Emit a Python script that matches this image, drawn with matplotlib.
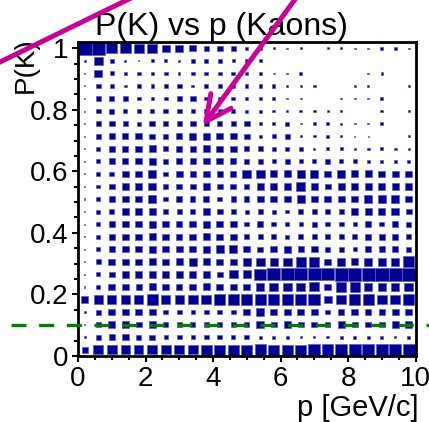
import matplotlib
matplotlib.use('Agg')
import matplotlib.pyplot as plt
import numpy as np
from matplotlib.lines import Line2D
from matplotlib.ticker import MultipleLocator, FuncFormatter

plt.rcParams['font.family'] = ['Liberation Sans', 'DejaVu Sans']

# binning: 25 bins in p [GeV/c], 25 bins in P(K)
p_edges = np.linspace(0., 10., 26)
pk_edges = np.linspace(0., 1.02, 26)

# relative bin content (1 = fullest box), one list per P(K) bin, top row first
occ_rows = [
    [1.0, 1.0, 0.78, 0.8, 0.75, 0.72, 0.6, 0.6, 0.5, 0.4, 0.42, 0.38, 0.22, 0.2, 0.15, 0.12, 0.18, 0, 0.15, 0.15, 0.12, 0.12, 0.2, 0.2, 0.12],
    [0.12, 0.64, 0.32, 0.12, 0.1, 0.25, 0.25, 0.15, 0.28, 0.3, 0.3, 0.25, 0.25, 0.25, 0, 0, 0, 0, 0, 0, 0, 0, 0, 0, 0],
    [0.1, 0.57, 0.32, 0.25, 0.3, 0.25, 0.3, 0.18, 0.28, 0.3, 0.3, 0.3, 0.25, 0.25, 0.12, 0.12, 0.2, 0, 0, 0, 0, 0.12, 0.18, 0, 0],
    [0.08, 0.37, 0.3, 0.2, 0.3, 0.25, 0.3, 0.37, 0.2, 0.3, 0.3, 0.3, 0.25, 0.25, 0.25, 0.12, 0.12, 0.2, 0, 0, 0.12, 0.12, 0, 0, 0.12],
    [0.1, 0.37, 0.4, 0.35, 0.3, 0.25, 0.3, 0.37, 0.42, 0.3, 0.3, 0.3, 0.25, 0.25, 0.25, 0.15, 0.12, 0, 0, 0.15, 0.12, 0.12, 0.22, 0, 0],
    [0.08, 0.37, 0.4, 0.32, 0.3, 0.3, 0.37, 0.37, 0.28, 0.32, 0.32, 0.32, 0.25, 0.25, 0.2, 0.15, 0.2, 0.2, 0.18, 0.12, 0, 0, 0.2, 0, 0.12],
    [0.08, 0.37, 0.45, 0.4, 0.3, 0.42, 0.37, 0.37, 0.42, 0.4, 0.37, 0.4, 0.42, 0.25, 0.25, 0.3, 0.12, 0.2, 0.22, 0.15, 0.12, 0.12, 0.22, 0, 0],
    [0.08, 0.37, 0.45, 0.45, 0.5, 0.42, 0.37, 0.45, 0.55, 0.55, 0.5, 0.5, 0.42, 0.25, 0.3, 0.37, 0.12, 0.2, 0.22, 0.15, 0.1, 0.1, 0, 0, 0.12],
    [0.08, 0.3, 0.45, 0.45, 0.5, 0.55, 0.37, 0.45, 0.45, 0.55, 0.5, 0.5, 0.37, 0.37, 0.32, 0.32, 0.32, 0.15, 0.22, 0.25, 0.15, 0.2, 0.25, 0.2, 0.15],
    [0.08, 0.3, 0.45, 0.45, 0.5, 0.55, 0.37, 0.45, 0.45, 0.5, 0.5, 0.45, 0.37, 0.37, 0.32, 0.35, 0.32, 0.32, 0.35, 0.3, 0.3, 0.25, 0.25, 0.25, 0.25],
    [0.08, 0.3, 0.37, 0.5, 0.5, 0.6, 0.37, 0.5, 0.45, 0.5, 0.42, 0.45, 0.65, 0.65, 0.55, 0.55, 0.6, 0.6, 0.5, 0.6, 0.55, 0.55, 0.5, 0.5, 0.5],
    [0.08, 0.3, 0.45, 0.5, 0.5, 0.6, 0.37, 0.45, 0.45, 0.5, 0.42, 0.45, 0.4, 0.5, 0.55, 0.5, 0.65, 0.55, 0.45, 0.55, 0.55, 0.5, 0.5, 0.5, 0.55],
    [0.08, 0.3, 0.45, 0.5, 0.5, 0.6, 0.35, 0.42, 0.4, 0.45, 0.38, 0.4, 0.4, 0.5, 0.5, 0.5, 0.58, 0.55, 0.5, 0.55, 0.55, 0.6, 0.62, 0.6, 0.55],
    [0.08, 0.32, 0.4, 0.5, 0.5, 0.55, 0.37, 0.37, 0.37, 0.55, 0.42, 0.37, 0.32, 0.37, 0.32, 0.3, 0.4, 0.4, 0.4, 0.37, 0.5, 0.55, 0.55, 0.6, 0.45],
    [0.08, 0.32, 0.45, 0.5, 0.5, 0.55, 0.5, 0.45, 0.5, 0.55, 0.5, 0.5, 0.37, 0.42, 0.37, 0.3, 0.32, 0.4, 0.37, 0.37, 0.32, 0.45, 0.37, 0.45, 0.4],
    [0.08, 0.32, 0.45, 0.5, 0.5, 0.55, 0.5, 0.45, 0.5, 0.55, 0.5, 0.5, 0.37, 0.37, 0.37, 0.3, 0.4, 0.4, 0.37, 0.37, 0.37, 0.45, 0.45, 0.45, 0.4],
    [0.08, 0.32, 0.45, 0.5, 0.5, 0.55, 0.5, 0.5, 0.5, 0.55, 0.6, 0.6, 0.5, 0.42, 0.5, 0.55, 0.45, 0.5, 0.37, 0.37, 0.32, 0.45, 0.45, 0.45, 0.4],
    [0.1, 0.4, 0.5, 0.5, 0.5, 0.55, 0.5, 0.55, 0.6, 0.55, 0.5, 0.5, 0.62, 0.65, 0.62, 0.65, 0.75, 0.75, 0.5, 0.6, 0.55, 0.6, 0.6, 0.6, 0.85],
    [0.08, 0.32, 0.45, 0.5, 0.5, 0.55, 0.5, 0.55, 0.5, 0.55, 0.45, 0.65, 0.62, 0.88, 0.95, 0.95, 0.95, 0.95, 0.95, 1.0, 1.0, 1.0, 1.0, 1.0, 1.0],
    [0.1, 0.32, 0.5, 0.5, 0.45, 0.55, 0.5, 0.45, 0.5, 0.55, 0.5, 0.5, 0.5, 0.62, 0.7, 0.65, 0.65, 0.72, 0.5, 0.75, 0.75, 0.6, 0.6, 0.6, 0.65],
    [0.55, 0.7, 0.7, 0.7, 0.7, 0.8, 0.65, 0.65, 0.75, 0.75, 0.8, 0.8, 0.8, 0.85, 0.8, 0.8, 0.8, 0.88, 0.62, 0.75, 0.8, 0.8, 0.75, 0.75, 0.8],
    [0.12, 0.4, 0.55, 0.5, 0.5, 0.55, 0.37, 0.37, 0.32, 0.37, 0.37, 0.37, 0.5, 0.62, 0.5, 0.5, 0.55, 0.5, 0.37, 0.45, 0.5, 0.45, 0.45, 0.5, 0.55],
    [0.1, 0.4, 0.55, 0.5, 0.45, 0.55, 0.37, 0.37, 0.37, 0.37, 0.37, 0.37, 0.4, 0.62, 0.45, 0.5, 0.45, 0.45, 0.37, 0.5, 0.45, 0.45, 0.45, 0.5, 0.5],
    [0.15, 0.4, 0.45, 0.5, 0.4, 0.42, 0.32, 0.37, 0.32, 0.37, 0.37, 0.32, 0.37, 0.25, 0.25, 0.25, 0.18, 0.18, 0.2, 0.22, 0.22, 0.22, 0.22, 0.15, 0.22],
    [0.45, 0.72, 0.72, 0.68, 0.68, 0.72, 0.75, 0.75, 0.75, 0.8, 0.8, 0.8, 0.8, 0.85, 0.8, 0.8, 0.8, 0.88, 0.85, 0.9, 0.9, 0.9, 0.9, 0.9, 0.9],
]

pid_cut = 0.1

occ = np.array(occ_rows[::-1])
xc = 0.5 * (p_edges[:-1] + p_edges[1:])
yc = 0.5 * (pk_edges[:-1] + pk_edges[1:])
dx = p_edges[1] - p_edges[0]
dy = pk_edges[1] - pk_edges[0]

fig = plt.figure(figsize=(4.29, 4.22), dpi=100)
ax = fig.add_axes([78/429., 66/422., 337.5/429., 314/422.])

boxcol = '#000096'
for j in range(len(yc)):
    s = occ[j]
    ax.bar(xc, s*dy, width=s*dx, bottom=yc[j] - s*dy/2.,
           color=boxcol, edgecolor='#5a5ab8', linewidth=0.5, zorder=2)

ax.set_xlim(0, 10)
ax.set_ylim(0, 1.02)

for sp in ax.spines.values():
    sp.set_linewidth(2)
ax.xaxis.set_major_locator(MultipleLocator(2))
ax.xaxis.set_minor_locator(MultipleLocator(0.5))
ax.yaxis.set_major_locator(MultipleLocator(0.2))
ax.yaxis.set_minor_locator(MultipleLocator(0.05))
ax.yaxis.set_major_formatter(FuncFormatter(lambda v, pos: '%g' % round(v, 2)))
ax.tick_params(which='both', direction='out', width=1.5, labelsize=20)
ax.tick_params(which='major', length=4.5, pad=2.5)
ax.tick_params(which='minor', length=3)

ax.set_title('P(K) vs p (Kaons)', fontsize=23, x=0.424, pad=2)
ax.set_xlabel('p [GeV/c]', fontsize=21, loc='right')
ax.xaxis.set_label_coords(1.01, -0.12)
ax.set_ylabel('P(K)', fontsize=20, loc='top')
ax.yaxis.set_label_coords(-0.115, 1.015)

# PID cut line
ax.plot([-2.0, 10.5], [pid_cut, pid_cut], color='#008000', lw=2.4,
        dashes=(4.5, 3.8), clip_on=False, zorder=5)

# magenta annotation arrows
mag = '#cc0099'
fig.add_artist(Line2D([-0.0233, 0.3263], [0.8415, 1.015],
                      transform=fig.transFigure, color=mag, lw=3.6))
ax.annotate('', xy=(3.7, 0.748), xycoords='data',
            xytext=(296, 424), textcoords='figure pixels',
            arrowprops=dict(arrowstyle='->,head_length=0.9,head_width=0.45',
                            color=mag, lw=3.6, shrinkA=0, shrinkB=0,
                            mutation_scale=20),
            annotation_clip=False, zorder=6)

fig.savefig('out.png', dpi=100)
